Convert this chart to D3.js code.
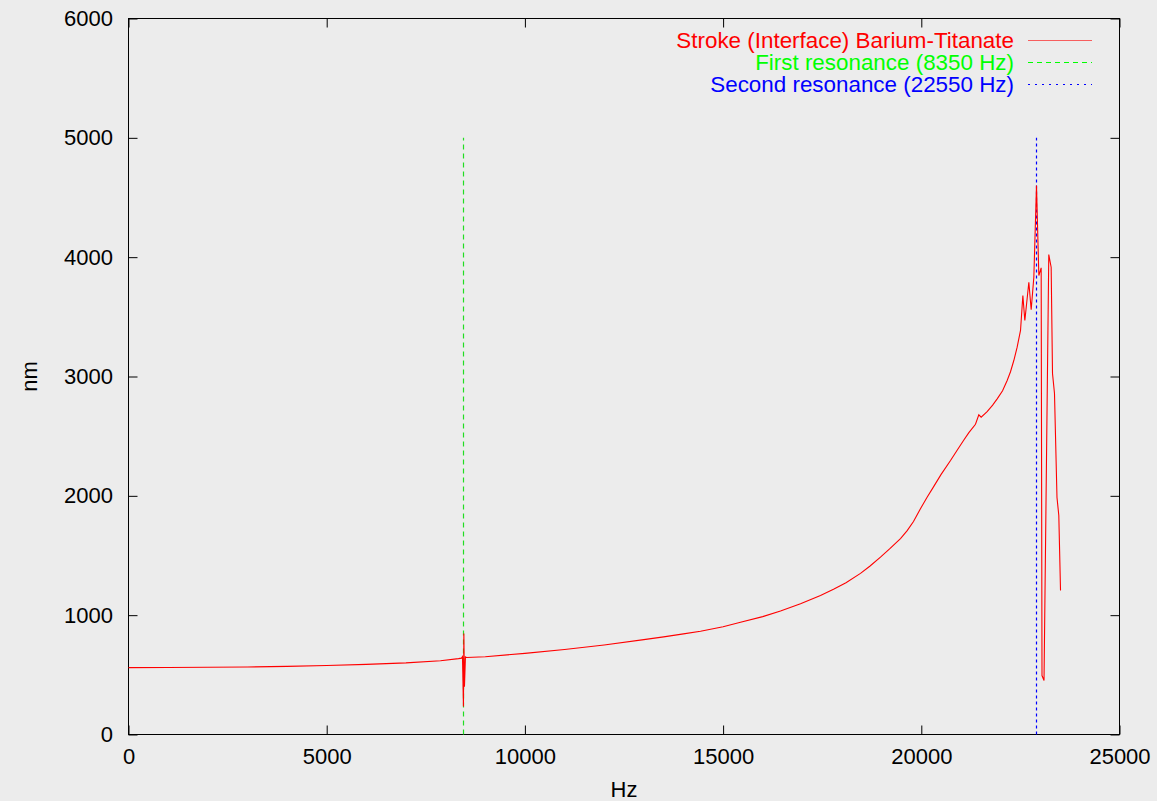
<!DOCTYPE html>
<html lang="en">
<head>
    <meta charset="UTF-8">
    <title>Stroke (Interface) Barium-Titanate</title>
    <script src="https://d3js.org/d3.v7.min.js"></script>
    <style>
        body {
            margin: 0;
            background-color: #ececec;
            font-family: 'Liberation Sans', Arial, sans-serif;
        }

        svg {
            display: block;
            font-size: 22px;
        }

        .axis text {
            fill: #000;
            font-family: 'Liberation Sans', Arial, sans-serif;
            font-size: 22px;
        }

        .axis line {
            stroke: #000;
        }

        .axis path {
            stroke: none;
        }
    </style>
</head>
<body>
    <div id="chart"></div>
    <script>
        // Measured stroke curve (frequency in Hz, displacement in nm)
        const hz = [
            0, 1000, 2000, 3000, 4000, 5000, 6000, 7000, 7872, 8325, 8400,
            8425, 8450, 8460, 8475, 8500, 8525, 9000, 10000, 11000, 12000,
            13000, 13500, 14000, 14430, 15000, 15439, 16000, 16448, 16953, 17457,
            17785, 18100, 18466, 18700, 18970, 19200, 19475, 19644, 19803, 20000,
            20150, 20308, 20500, 20737, 20900, 21065, 21200, 21367, 21451, 21510,
            21661, 21800, 21914, 22050, 22166, 22250, 22334, 22418, 22503, 22562,
            22612, 22713, 22772, 22839, 22906, 22965, 23024, 23045, 23096, 23216,
            23276, 23310, 23360, 23423, 23469, 23512
        ];
        const nm = [
            560, 561, 563, 566, 571, 578, 588, 600, 618, 636, 640,
            652, 235, 846, 400, 650, 645, 652, 680, 712, 750,
            795, 818, 843, 865, 903, 941, 988, 1035, 1095, 1165,
            1218, 1272, 1350, 1410, 1486, 1555, 1642, 1708, 1785, 1905,
            1990, 2075, 2180, 2296, 2380, 2464, 2530, 2600, 2679, 2659,
            2705, 2760, 2813, 2880, 2967, 3040, 3134, 3246, 3386, 3679,
            3469, 3790, 3559, 3832, 4601, 3846, 3911, 494, 452, 4022,
            3916, 3025, 2858, 1986, 1835, 1207
        ];

        // Vertical resonance markers
        const resonanceHz = [8450, 22900];
        const resonanceTop = 5000;

        // Legend entries
        const legendLabels = [
            "Stroke (Interface) Barium-Titanate",
            "First resonance (8350 Hz)",
            "Second resonance (22550 Hz)"
        ];
        const legendColors = ["#ff0000", "#00ff00", "#0000ff"];

        // Axis ticks
        const xTicks = [0, 5000, 10000, 15000, 20000, 25000];
        const yTicks = [0, 1000, 2000, 3000, 4000, 5000, 6000];

        const width = 1157;
        const height = 801;
        const plotLeft = 128.5, plotRight = 1119.5, plotTop = 18.5, plotBottom = 734.5;

        const svg = d3.select("#chart")
            .append("svg")
            .attr("width", width)
            .attr("height", height);

        const x = d3.scaleLinear().domain([0, 25000]).range([plotLeft, plotRight]);
        const y = d3.scaleLinear().domain([0, 6000]).range([plotBottom, plotTop]);

        // Ticks on all four sides, pointing inward
        svg.append("g")
            .attr("class", "axis")
            .attr("transform", `translate(0,${plotBottom})`)
            .call(d3.axisBottom(x).tickValues(xTicks).tickFormat(d3.format("d"))
                .tickSizeInner(-9).tickSizeOuter(0).tickPadding(14));

        svg.append("g")
            .attr("class", "axis")
            .attr("transform", `translate(0,${plotTop})`)
            .call(d3.axisTop(x).tickValues(xTicks).tickFormat("")
                .tickSizeInner(-9).tickSizeOuter(0));

        svg.append("g")
            .attr("class", "axis")
            .attr("transform", `translate(${plotLeft},0)`)
            .call(d3.axisLeft(y).tickValues(yTicks).tickFormat(d3.format("d"))
                .tickSizeInner(-9).tickSizeOuter(0).tickPadding(15.5));

        svg.append("g")
            .attr("class", "axis")
            .attr("transform", `translate(${plotRight},0)`)
            .call(d3.axisRight(y).tickValues(yTicks).tickFormat("")
                .tickSizeInner(-9).tickSizeOuter(0));

        // Frame
        svg.append("rect")
            .attr("x", plotLeft)
            .attr("y", plotTop)
            .attr("width", plotRight - plotLeft)
            .attr("height", plotBottom - plotTop)
            .attr("fill", "none")
            .attr("stroke", "#000")
            .attr("stroke-width", 1);

        // Axis titles
        svg.append("text")
            .attr("x", (plotLeft + plotRight) / 2)
            .attr("y", 797)
            .attr("text-anchor", "middle")
            .text("Hz");

        svg.append("text")
            .attr("transform", `translate(37,${(plotTop + plotBottom) / 2}) rotate(-90)`)
            .attr("text-anchor", "middle")
            .text("nm");

        // Resonance lines
        const dashes = ["5,4", "3,3"];
        svg.selectAll(".resonance")
            .data(resonanceHz)
            .enter()
            .append("line")
            .attr("class", "resonance")
            .attr("x1", d => Math.round(x(d)) + 0.5)
            .attr("x2", d => Math.round(x(d)) + 0.5)
            .attr("y1", y(0))
            .attr("y2", y(resonanceTop))
            .attr("stroke", (d, i) => i === 0 ? "#22dd22" : legendColors[2])
            .attr("stroke-width", 1.2)
            .attr("stroke-dasharray", (d, i) => dashes[i]);

        // Stroke curve
        const points = hz.map((h, i) => [h, nm[i]]);
        svg.append("path")
            .datum(points)
            .attr("fill", "none")
            .attr("stroke", legendColors[0])
            .attr("stroke-width", 1.1)
            .attr("stroke-linejoin", "miter")
            .attr("d", d3.line().x(d => x(d[0])).y(d => y(d[1])));

        // Legend
        const legend = svg.append("g").attr("font-size", "22.4px");
        const legendDash = [null, "5,4", "2,5"];
        legendLabels.forEach((label, i) => {
            const ly = 40 + i * 22;
            legend.append("text")
                .attr("x", 1014)
                .attr("y", ly)
                .attr("dy", "0.35em")
                .attr("text-anchor", "end")
                .attr("fill", legendColors[i])
                .text(label);
            legend.append("line")
                .attr("x1", 1028)
                .attr("x2", 1092)
                .attr("y1", ly + 0.5)
                .attr("y2", ly + 0.5)
                .attr("stroke", legendColors[i])
                .attr("stroke-opacity", i === 0 ? 0.6 : 1)
                .attr("stroke-width", 1)
                .attr("stroke-dasharray", legendDash[i]);
        });
    </script>
</body>
</html>
